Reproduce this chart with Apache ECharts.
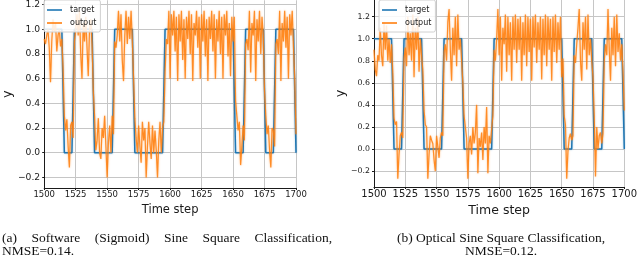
<!DOCTYPE html>
<html>
<head>
<meta charset="utf-8">
<script src="https://cdn.jsdelivr.net/npm/echarts@6/dist/echarts.min.js"></script>
<style>
html,body{margin:0;padding:0;background:#fff;}
#c{width:640px;height:259px;}
</style>
</head>
<body>
<div id="c"></div>
<script>
// ---- data ----
const startStep = 1500;
const xTickMin = 1500, xTickMax = 1700, xTickStep = 25;
const seriesNames = ['target', 'output'];
const axisTitleX = 'Time step';
const axisTitleY = 'y';
const captionA1 = ['(a)', 'Software', '(Sigmoid)', 'Sine', 'Square', 'Classification,'];
const captionA2 = 'NMSE=0.14.';
const captionB1 = '(b) Optical Sine Square Classification,';
const captionB2 = 'NMSE=0.12.';

// target level per time step, 1500..1700
const targetLevels = [
  1,1,1,1,1,1,1,1, 1,1,1,1,1,1,1,1,
  0,0,0,0,0,0,0,0,
  1,1,1,1,1,1,1,1, 1,1,1,1,1,1,1,1,
  0,0,0,0,0,0,0,0, 0,0,0,0,0,0,0,0,
  1,1,1,1,1,1,1,1, 1,1,1,1,1,1,1,1,
  0,0,0,0,0,0,0,0, 0,0,0,0,0,0,0,0, 0,0,0,0,0,0,0,0,
  1,1,1,1,1,1,1,1, 1,1,1,1,1,1,1,1, 1,1,1,1,1,1,1,1, 1,1,1,1,1,1,1,1,
  1,1,1,1,1,1,1,1, 1,1,1,1,1,1,1,1, 1,1,1,1,1,1,1,1,
  0,0,0,0,0,0,0,0,
  1,1,1,1,1,1,1,1, 1,1,1,1,1,1,1,1,
  0,0,0,0,0,0,0,0,
  1,1,1,1,1,1,1,1, 1,1,1,1,1,1,1,1,
  0
];

// (a) software output, 1500..1700
const outputA = [
  0.92, 0.88, 0.95, 1.0, 0.85, 0.57, 0.9, 1.08, 0.98, 1.05,
  0.82, 0.95, 1.0, 0.86, 0.92, 0.68, 0.3, 0.18, 0.27, 0.05,
  -0.12, 0.22, 0.25, 0.12, 0.9, 1.0, 1.12, 0.95, 1.15, 0.8,
  0.6, 1.05, 0.9, 1.1, 0.85, 0.62, 1.0, 1.08, 0.88, 0.5,
  0.3, 0.02, 0.1, 0.28, 0.0, -0.05, 0.2, 0.12, 0.3, 0.05,
  -0.2, 0.08, 0.22, 0.0, 0.3, 0.15, 0.9, 0.85, 0.95, 1.15,
  0.9, 1.12, 0.75, 0.58, 0.95, 1.15, 0.88, 1.1, 0.92, 1.15,
  0.9, 0.6, 0.28, 0.12, 0.0, 0.22, 0.05, -0.08, 0.25, 0.1,
  0.2, -0.2, 0.05, 0.25, 0.08, -0.05, 0.22, 0.0, 0.18, 0.02,
  -0.2, 0.1, 0.25, 0.0, 0.2, 0.25, 0.65, 0.92, 0.88, 1.15,
  0.6, 1.12, 0.95, 1.15, 0.82, 1.1, 0.58, 1.12, 0.9, 1.15,
  0.75, 1.08, 0.6, 1.1, 0.92, 1.15, 0.8, 1.12, 0.58, 1.05,
  0.95, 1.15, 0.85, 1.1, 0.6, 1.12, 0.9, 1.15, 0.78, 1.08,
  0.58, 1.1, 0.92, 1.15, 0.82, 1.12, 0.6, 1.08, 0.9, 1.15,
  0.8, 1.1, 0.6, 1.12, 0.95, 1.15, 0.78, 1.05, 0.62, 1.1,
  0.9, 1.1, 0.42, 0.3, 0.18, 0.25, -0.1, 0.05, 0.22, 0.1,
  0.88, 0.92, 0.83, 1.15, 0.65, 1.05, 0.95, 1.15, 0.58, 1.08,
  0.9, 1.15, 0.8, 1.1, 0.95, 0.5, 0.3, 0.15, 0.22, 0.02,
  -0.12, 0.2, 0.18, 0.05, 0.88, 0.92, 0.8, 1.15, 0.58, 1.05,
  0.9, 1.15, 0.85, 1.1, 0.6, 1.12, 0.95, 1.15, 0.85, 0.6,
  0.15
];

// (b) optical output, 1500..1700
const outputB = [
  0.9, 0.72, 0.66, 0.85, 0.8, 1.1, 0.85, 0.75, 1.15, 0.9,
  1.12, 0.8, 1.0, 0.78, 0.95, 0.7, 0.28, 0.22, 0.25, -0.27,
  -0.05, 0.12, 0.15, 0.1, 0.82, 0.92, 0.75, 1.2, 0.85, 1.05,
  0.8, 1.22, 0.65, 1.1, 0.9, 1.2, 0.7, 1.0, 0.85, 0.72,
  0.35, 0.22, 0.2, -0.27, -0.05, 0.12, 0.08, 0.05, -0.1, -0.2,
  0.12, 0.02, -0.08, 0.1, 0.15, 0.12, 0.88, 0.95, 0.8, 1.15,
  1.27, 0.9, 0.62, 1.1, 0.85, 1.2, 0.75, 1.22, 0.9, 1.0,
  0.8, 0.6, 0.3, 0.2, 0.1, -0.27, 0.05, 0.12, -0.05, 0.2,
  0.05, 0.15, 0.4, -0.22, 0.1, 0.02, 0.15, -0.1, 0.2, 0.05,
  0.38, -0.22, 0.12, 0.05, 0.18, 0.3, 0.9, 0.8, 1.0, 1.27,
  0.85, 1.2, 0.62, 1.1, 0.95, 1.22, 0.7, 1.2, 0.85, 1.15,
  0.62, 1.2, 0.9, 1.22, 0.78, 1.18, 0.9, 1.2, 0.62, 1.15,
  0.85, 1.22, 0.75, 1.2, 0.88, 1.18, 0.62, 1.2, 0.92, 1.22,
  0.78, 1.15, 0.9, 1.2, 0.63, 1.18, 0.85, 1.22, 0.75, 1.2,
  0.9, 1.18, 0.62, 1.2, 0.88, 1.22, 0.78, 1.15, 0.9, 1.2,
  0.65, 0.82, 0.3, 0.22, -0.27, -0.02, 0.1, 0.14, 0.08, 0.12,
  0.85, 0.78, 0.95, 1.1, 1.27, 0.8, 0.62, 1.15, 0.9, 1.2,
  0.72, 1.22, 0.85, 1.0, 0.8, 0.65, 0.3, -0.25, 0.2, 0.0,
  0.12, 0.15, 0.05, 0.14, 0.8, 0.95, 0.85, 1.27, 0.9, 0.62,
  1.1, 0.85, 1.2, 0.75, 1.22, 0.88, 1.05, 0.8, 0.95, 0.7,
  0.35
];

// ---- build chart ----
const pairs = arr => arr.map((v, i) => [startStep + i, v]);
const AX = "'DejaVu Sans', sans-serif";
const SERIF = "'Liberation Serif', 'Times New Roman', serif";
const ink = '#1a1a1a';
const gridColor = '#c6c6c6';
const yFmt = v => (v < 0 ? '\u2212' : '') + Math.abs(v).toFixed(1);

function xAxisCfg(gi, fs, nameFs) {
  return {
    type: 'value', gridIndex: gi, min: xTickMin, max: xTickMax, interval: xTickStep,
    axisLine: { show: true, onZero: false, lineStyle: { color: ink, width: 1 } },
    axisTick: { show: true, length: 2, lineStyle: { color: ink, width: 1 } },
    axisLabel: { fontFamily: AX, fontSize: fs, color: ink, margin: 2, formatter: v => String(v) },
    splitLine: { show: true, lineStyle: { color: gridColor, width: 1 } },
    name: axisTitleX, nameLocation: 'middle', nameGap: 13,
    nameTextStyle: { fontFamily: AX, fontSize: nameFs, color: ink }
  };
}
function yAxisCfg(gi, min, max, fs, nameGap) {
  return {
    type: 'value', gridIndex: gi, min: min, max: max, splitNumber: 8,
    axisLine: { show: true, onZero: false, lineStyle: { color: ink, width: 1 } },
    axisTick: { show: true, length: 2, lineStyle: { color: ink, width: 1 } },
    axisLabel: { fontFamily: AX, fontSize: fs, color: ink, margin: 4, formatter: yFmt,
                 showMinLabel: false, showMaxLabel: false },
    splitLine: { show: true, showMinLine: false, showMaxLine: false, lineStyle: { color: gridColor, width: 1 } },
    name: axisTitleY, nameLocation: 'middle', nameGap: nameGap, nameRotate: 90,
    nameTextStyle: { fontFamily: AX, fontSize: 13, color: ink }
  };
}
function legendCfg(left) {
  return {
    left: left, top: 0, orient: 'vertical', data: seriesNames,
    icon: 'rect', itemWidth: 15, itemHeight: 1.6, itemGap: 3,
    padding: [5, 4, 4, 3],
    backgroundColor: 'rgba(255,255,255,0.85)', borderColor: '#d0d0d0', borderWidth: 1, borderRadius: 2,
    textStyle: { fontFamily: AX, fontSize: 8, color: ink, lineHeight: 10, padding: [0, 0, 0, 3] },
    selectedMode: false
  };
}
function lineSeries(name, data, gi, color, width, z, opacity, halo) {
  return {
    type: 'line', name: name, xAxisIndex: gi, yAxisIndex: gi, data: pairs(data),
    showSymbol: false, symbol: 'none', animation: false, z: z,
    lineStyle: { color: color, width: width, opacity: opacity, shadowColor: halo, shadowBlur: 2 },
    itemStyle: { color: color }
  };
}

const chart = echarts.init(document.getElementById('c'), null, { renderer: 'canvas' });

// caption layout (justified first line on the left)
const ctx = document.createElement('canvas').getContext('2d');
const capFs = 13.5;
const capFont = capFs + 'px ' + SERIF;
ctx.font = capFont;
const capLeft = 2, capRight = 332;
const wordW = captionA1.map(w => ctx.measureText(w).width);
const gap = (capRight - capLeft - wordW.reduce((a, b) => a + b, 0)) / (captionA1.length - 1);
const graphics = [];
let xx = capLeft;
captionA1.forEach((w, i) => {
  graphics.push({ type: 'text', x: xx, y: 238, style: { text: w, font: capFont, fill: '#111', textVerticalAlign: 'middle' } });
  xx += wordW[i] + gap;
});
graphics.push({ type: 'text', x: capLeft, y: 251.5, style: { text: captionA2, font: capFont, fill: '#111', textVerticalAlign: 'middle' } });
graphics.push({ type: 'text', x: 501, y: 238, style: { text: captionB1, font: capFont, fill: '#111', textAlign: 'center', textVerticalAlign: 'middle' } });
graphics.push({ type: 'text', x: 501, y: 251.5, style: { text: captionB2, font: capFont, fill: '#111', textAlign: 'center', textVerticalAlign: 'middle' } });

chart.setOption({
  animation: false,
  backgroundColor: '#fff',
  grid: [
    { left: 42, top: 0, width: 254, height: 188 },
    { left: 374, top: 0, width: 256, height: 187 }
  ],
  xAxis: [xAxisCfg(0, 8.5, 11.5), xAxisCfg(1, 10, 12.5)],
  yAxis: [yAxisCfg(0, -0.2854, 1.2345, 9.2, 24), yAxisCfg(1, -0.3445, 1.351, 7.8, 22)],
  legend: [legendCfg(44), legendCfg(379)],
  series: [
    lineSeries(seriesNames[0], targetLevels, 0, '#1f77b4', 1.5, 2, 1, 'rgba(31,119,180,0.4)'),
    lineSeries(seriesNames[1], outputA, 0, '#ff7f0e', 1.2, 3, 0.85, 'rgba(255,127,14,0.6)'),
    lineSeries(seriesNames[0], targetLevels, 1, '#1f77b4', 1.5, 2, 1, 'rgba(31,119,180,0.4)'),
    lineSeries(seriesNames[1], outputB, 1, '#ff7f0e', 1.2, 3, 0.85, 'rgba(255,127,14,0.6)')
  ],
  graphic: graphics
});
</script>
</body>
</html>
